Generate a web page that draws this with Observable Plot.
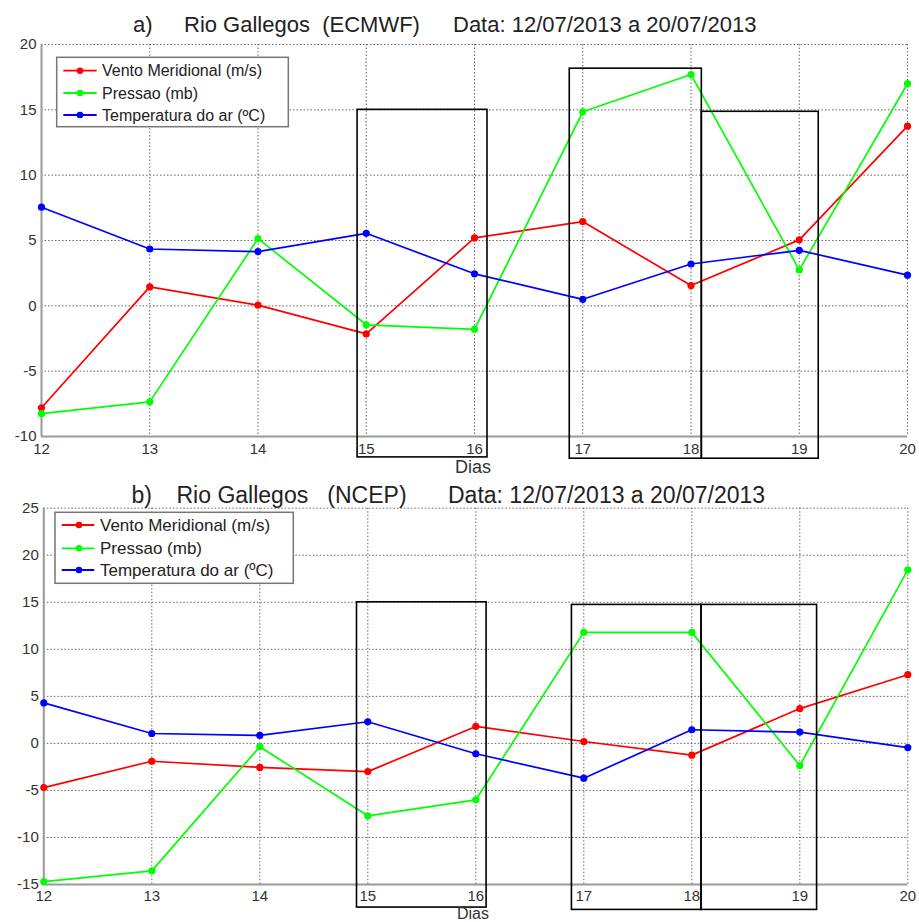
<!DOCTYPE html>
<html><head><meta charset="utf-8">
<script src="https://cdn.jsdelivr.net/npm/d3@7"></script>
<script src="https://cdn.jsdelivr.net/npm/@observablehq/plot@0.6"></script>
<style>
body{margin:0;background:#fff;}
#wrap{position:relative;width:919px;height:922px;overflow:hidden;background:#fff;font-family:"Liberation Sans",Arial,sans-serif;}
.panel{position:absolute;left:0;}
#overlay{position:absolute;left:0;top:0;pointer-events:none;}
</style>
</head><body>
<div id="wrap">
  <div id="pA" class="panel" style="top:0px"></div>
  <div id="pB" class="panel" style="top:480px"></div>
  <svg id="overlay" width="919" height="922"></svg>
</div>
<script>
// ---------- data ----------
const days = [12, 13, 14, 15, 16, 17, 18, 19, 20];
const seriesNames = ["Vento Meridional (m/s)", "Pressao (mb)", "Temperatura do ar (ºC)"];
const seriesColors = ["#ff0000", "#00ff00", "#0000ff"];

// Panel a) ECMWF
const aVento   = [-7.8, 1.45, 0.05, -2.15, 5.2, 6.45, 1.55, 5.05, 13.75];
const aPressao = [-8.25, -7.35, 5.15, -1.45, -1.8, 14.85, 17.7, 2.75, 17.0];
const aTemp    = [7.55, 4.35, 4.15, 5.55, 2.45, 0.5, 3.2, 4.25, 2.35];
const aYTicks  = [-10, -5, 0, 5, 10, 15, 20];
const aBoxX1 = [14.92, 16.88, 18.10];
const aBoxX2 = [16.12, 18.10, 19.18];
const aBoxY1 = [-11.6, -11.7, -11.7];
const aBoxY2 = [15, 18.15, 14.85];

// Panel b) NCEP
const bVento   = [-4.7, -1.9, -2.55, -3.0, 1.8, 0.2, -1.25, 3.7, 7.3];
const bPressao = [-14.7, -13.55, -0.35, -7.7, -6.0, 11.8, 11.8, -2.35, 18.45];
const bTemp    = [4.3, 1.05, 0.85, 2.3, -1.1, -3.7, 1.45, 1.2, -0.45];
const bYTicks  = [-15, -10, -5, 0, 5, 10, 15, 20, 25];
const bBoxX1 = [14.90, 16.89, 18.09];
const bBoxX2 = [16.10, 18.09, 19.16];
const bBoxY1 = [-17.45, -17.7, -17.7];
const bBoxY2 = [15, 14.72, 14.72];

// ---------- build ----------
function rowsOf(vento, pressao, temp) {
  const out = [];
  [vento, pressao, temp].forEach((arr, s) => {
    days.forEach((d, i) => out.push({day: d, value: arr[i], series: seriesNames[s]}));
  });
  return out;
}
function boxesOf(x1, x2, y1, y2) {
  return x1.map((_, i) => ({x1: x1[i], x2: x2[i], y1: y1[i], y2: y2[i]}));
}

function panel({vento, pressao, temp, yTicks, boxes, height, mt, mb, ml, mr, fs, xPad}) {
  const rows = rowsOf(vento, pressao, temp);
  const yDom = [yTicks[0], yTicks[yTicks.length - 1]];
  return Plot.plot({
    width: 919, height,
    marginTop: mt, marginBottom: mb, marginLeft: ml, marginRight: mr,
    x: {domain: [12, 20]},
    y: {domain: yDom},
    color: {domain: seriesNames, range: seriesColors},
    style: {fontFamily: "Liberation Sans, Arial, sans-serif", fontSize: fs + "px", color: "#333", background: "transparent", overflow: "visible"},
    marks: [
      Plot.gridX({ticks: days, stroke: "#666", strokeOpacity: 1, strokeWidth: 1, strokeDasharray: "1.5,2"}),
      Plot.gridY({ticks: yTicks, stroke: "#666", strokeOpacity: 1, strokeWidth: 1, strokeDasharray: "1.5,2"}),
      Plot.ruleX([12], {stroke: "#9a9a9a", strokeWidth: 2}),
      Plot.ruleY([yDom[0]], {stroke: "#9a9a9a", strokeWidth: 2}),
      Plot.axisX({ticks: days, tickSize: 0, tickPadding: xPad, tickFormat: d => String(d), fontSize: fs, fill: "#333", label: null}),
      Plot.axisY({ticks: yTicks, tickSize: 0, tickPadding: 5, tickFormat: d => String(d), fontSize: fs, fill: "#333", label: null}),
      Plot.line(rows, {x: "day", y: "value", z: "series", stroke: "series", strokeWidth: 1.7}),
      Plot.dot(rows, {x: "day", y: "value", fill: "series", r: 3.6, stroke: null}),
      Plot.rect(boxes, {x1: "x1", x2: "x2", y1: "y1", y2: "y2", fill: "none", stroke: "#000", strokeWidth: 1.6})
    ]
  });
}

document.getElementById("pA").append(panel({
  vento: aVento, pressao: aPressao, temp: aTemp, yTicks: aYTicks,
  boxes: boxesOf(aBoxX1, aBoxX2, aBoxY1, aBoxY2),
  height: 480, mt: 44, mb: 44, ml: 41, mr: 12, fs: 15, xPad: 7
}));
document.getElementById("pB").append(panel({
  vento: bVento, pressao: bPressao, temp: bTemp, yTicks: bYTicks,
  boxes: boxesOf(bBoxX1, bBoxX2, bBoxY1, bBoxY2),
  height: 442, mt: 27.7, mb: 38, ml: 43.3, mr: 11.7, fs: 15, xPad: 5.5
}));

// ---------- titles, axis labels, legends ----------
const ov = d3.select("#overlay").style("font-family", "Liberation Sans, Arial, sans-serif");
function txt(x, y, s, fs, fill = "#222") {
  ov.append("text").attr("x", x).attr("y", y).attr("font-size", fs).attr("fill", fill)
    .style("white-space", "pre").text(s);
}
txt(133, 32, "a)", 22);
txt(184, 32, "Rio Gallegos  (ECMWF)", 22);
txt(453, 32, "Data: 12/07/2013 a 20/07/2013", 22);
txt(455, 472.5, "Dias", 18, "#333");

txt(131.5, 503, "b)", 23);
txt(176.5, 503, "Rio Gallegos   (NCEP)", 23);
txt(448, 503, "Data: 12/07/2013 a 20/07/2013", 23);
txt(457, 919, "Dias", 16, "#333");

function legend(x, y, w, h, rowsY, lx1, lx2, dotX, textX, fs) {
  ov.append("rect").attr("x", x).attr("y", y).attr("width", w).attr("height", h)
    .attr("fill", "#fff").attr("stroke", "#777").attr("stroke-width", 1.5);
  seriesNames.forEach((n, i) => {
    const ry = rowsY[i];
    ov.append("line").attr("x1", lx1).attr("x2", lx2).attr("y1", ry).attr("y2", ry)
      .attr("stroke", seriesColors[i]).attr("stroke-width", 1.8);
    ov.append("circle").attr("cx", dotX).attr("cy", ry).attr("r", 3.3).attr("fill", seriesColors[i]);
    ov.append("text").attr("x", textX).attr("y", ry + fs * 0.36).attr("font-size", fs).attr("fill", "#222").text(n);
  });
}
legend(56.7, 57.3, 231.6, 69.4, [70.7, 93, 115], 63.3, 96.7, 80, 102, 16);
legend(55, 512.3, 238.3, 71, [525, 548.3, 570], 61.7, 94.3, 79, 100, 17);
</script>
</body></html>
